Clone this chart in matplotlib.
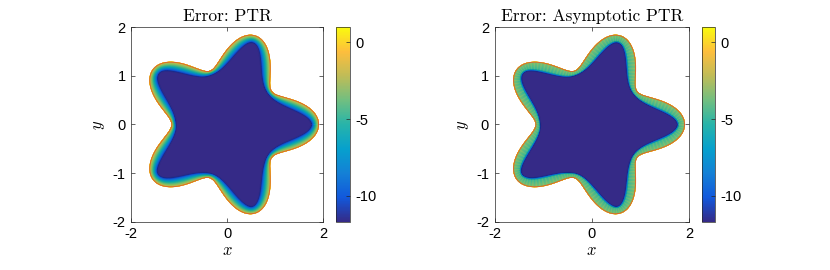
import numpy as np
import matplotlib
matplotlib.use('Agg')
import matplotlib.pyplot as plt
from matplotlib.colors import LinearSegmentedColormap, Normalize

plt.rcParams['font.family'] = ['Liberation Sans', 'DejaVu Sans']
plt.rcParams['mathtext.fontset'] = 'cm'
plt.rcParams['axes.unicode_minus'] = False

# parula-like colormap (anchor colours)
parula_colors = [
    (0.2081, 0.1663, 0.5292),
    (0.0689, 0.3475, 0.8624),
    (0.0779, 0.5040, 0.8384),
    (0.0239, 0.6287, 0.8038),
    (0.1540, 0.7057, 0.6646),
    (0.4420, 0.7481, 0.5033),
    (0.7525, 0.7384, 0.3414),
    (0.9937, 0.7456, 0.2392),
    (0.9763, 0.9831, 0.0538),
]
parula = LinearSegmentedColormap.from_list('parula', parula_colors)

# star domain r(t) = r_mean + r_amp*cos(n_arms*t)
r_mean = 1.53
r_amp = 0.38
n_arms = 5
h_band = 0.082          # band width per unit speed |gamma'|
clim = (-11.7, 1.0)

# log10 error profiles across the boundary band (u = 0 at boundary, 1 at inner edge)
u_knots = [0.0, 0.05, 0.3, 0.55, 0.8, 1.0, 1.3]
err_ptr = [0.3, -1.6, -3.6, -6.0, -9.0, -11.7, -11.7]
u_knots_asym = [0.0, 0.06, 0.5, 0.78, 0.9, 1.0, 1.3]
err_asym = [0.4, -3.3, -4.1, -4.7, -8.5, -11.7, -11.7]
n_nodes = 200            # stripe count in asymptotic band
stripe_amp = 0.35

titles = ['Error: PTR', 'Error: Asymptotic PTR']

t = np.linspace(0, 2 * np.pi, 4001)
r = r_mean + r_amp * np.cos(n_arms * t)
dr = -n_arms * r_amp * np.sin(n_arms * t)
gx, gy = r * np.cos(t), r * np.sin(t)
tx = dr * np.cos(t) - r * np.sin(t)
ty = dr * np.sin(t) + r * np.cos(t)
speed = np.hypot(tx, ty)
nx, ny = ty / speed, -tx / speed

u = np.linspace(0, 1.3, 80)
T, U = np.meshgrid(t, u, indexing='ij')
W = (h_band * speed)[:, None]
X = gx[:, None] - U * W * nx[:, None]
Y = gy[:, None] - U * W * ny[:, None]

C1 = np.interp(U, u_knots, err_ptr)
C2 = np.interp(U, u_knots_asym, err_asym)
mask = (U > 0.06) & (U < 0.85)
C2 = C2 + np.where(mask, stripe_amp * np.cos(n_nodes * T), 0.0)

norm = Normalize(*clim)
fig = plt.figure(figsize=(8.3, 2.7), dpi=100)

ax_pos = [[0.158, 0.178, 0.231, 0.722], [0.596, 0.178, 0.234, 0.722]]
cb_pos = [[0.405, 0.178, 0.0169, 0.722], [0.846, 0.178, 0.0160, 0.722]]

for k, C in enumerate([C1, C2]):
    ax = fig.add_axes(ax_pos[k])
    ax.fill(gx, gy, color=parula(0.0), lw=0)
    im = ax.pcolormesh(X, Y, C, cmap=parula, norm=norm, shading='gouraud')
    ax.plot(gx, gy, color='#dc5f2a', lw=0.6)
    ax.set_xlim(-2, 2)
    ax.set_ylim(-2, 2)
    ax.set_xticks([-2, 0, 2])
    ax.set_yticks([-2, -1, 0, 1, 2])
    ax.tick_params(direction='in', length=3, width=0.5, top=True, right=True,
                   labelsize=10.5, color='#262626', pad=4)
    for s in ax.spines.values():
        s.set_linewidth(0.5)
        s.set_color('#262626')
    ax.set_title(titles[k], fontsize=12.5, pad=4, family='cmr10')
    ax.set_xlabel(r'$x$', fontsize=12, labelpad=1)
    ax.set_ylabel(r'$y$', fontsize=12, labelpad=4)

    cax = fig.add_axes(cb_pos[k])
    cb = fig.colorbar(im, cax=cax, ticks=[0, -5, -10])
    cb.ax.tick_params(direction='in', length=3, width=0.5, labelsize=10.5, color='#262626')
    cb.outline.set_linewidth(0.5)
    cb.outline.set_edgecolor('#262626')

fig.savefig('out.png', dpi=100)
